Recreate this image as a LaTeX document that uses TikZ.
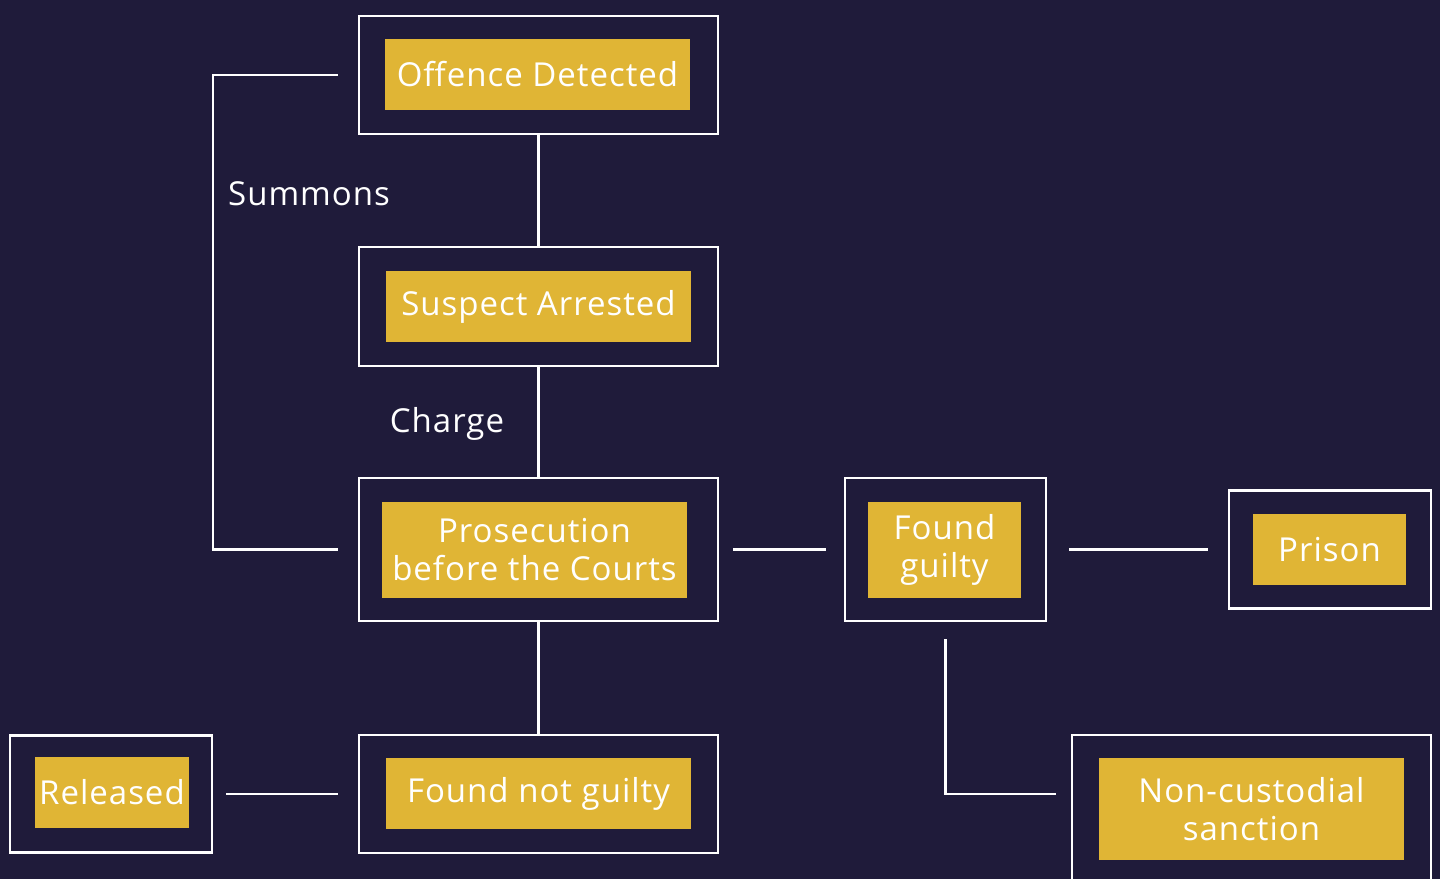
\documentclass[tikz,border=0pt]{standalone}
\usepackage{fontspec}
\setmainfont{Open Sans}[LetterSpace=3]
\definecolor{bg}{HTML}{1F1B3A}
\definecolor{gold}{HTML}{E0B535}
\begin{document}
\begin{tikzpicture}[x=1pt,y=-1pt,
  frame/.style={draw=white,line width=2.6pt,fill=none,inner sep=0pt},
  goldbox/.style={fill=gold,text=white,inner sep=0pt,align=center,font=\fontsize{33}{38}\selectfont},
  conn/.style={draw=white,line width=2.6pt},
  lbl/.style={text=white,font=\fontsize{33}{38}\selectfont,inner sep=0pt}]
\fill[bg] (0,0) rectangle (1440,879);
\useasboundingbox (0,0) rectangle (1440,879);
% frames
\node[frame,minimum width=359pt,minimum height=118pt] (offF) at (538.5,75) {};
\node[frame,minimum width=359pt,minimum height=119pt] (susF) at (538.5,306.5) {};
\node[frame,minimum width=359pt,minimum height=143pt] (proF) at (538.5,549.5) {};
\node[frame,minimum width=201pt,minimum height=143pt] (fgF) at (945.5,549.5) {};
\node[frame,minimum width=202pt,minimum height=118pt] (priF) at (1330,549.5) {};
\node[frame,minimum width=359pt,minimum height=118pt] (fngF) at (538.5,794) {};
\node[frame,minimum width=202pt,minimum height=117pt] (relF) at (111,794) {};
\node[frame,minimum width=359pt,minimum height=160pt] (ncF) at (1251.5,815) {};
% gold boxes
\node[goldbox,minimum width=305pt,minimum height=71pt] (off) at (537.5,74.5) {\raisebox{-3pt}{Offence Detected}};
\node[goldbox,minimum width=305pt,minimum height=71pt] (sus) at (538.5,306.5) {\raisebox{-3pt}{Suspect Arrested}};
\node[goldbox,minimum width=305pt,minimum height=96pt] (pro) at (534.5,550) {Prosecution\\before the Courts};
\node[goldbox,minimum width=153pt,minimum height=96pt] (fg) at (944.5,550) {Found\\guilty};
\node[goldbox,minimum width=153pt,minimum height=71pt] (pri) at (1329.5,549.5) {Prison};
\node[goldbox,minimum width=305pt,minimum height=71pt] (fng) at (538.5,793.5) {\raisebox{-4pt}{Found not guilty}};
\node[goldbox,minimum width=154pt,minimum height=71pt] (rel) at (112,792.5) {\raisebox{-2pt}{Released}};
\node[goldbox,minimum width=305pt,minimum height=102pt] (nc) at (1251.5,809) {Non-custodial\\sanction};
% labels
\node[lbl] (summons) at (309,194) {Summons};
\node[lbl] (charge) at (447,424) {Charge};
% coordinates for free ends
\coordinate (sumA) at ([xshift=-20pt]offF.west);
\coordinate (sumB) at ([xshift=-20pt]proF.west);
\coordinate (pfA) at ([xshift=14pt]proF.east);
\coordinate (pfB) at ([xshift=-18pt]fgF.west);
\coordinate (fpA) at ([xshift=22pt]fgF.east);
\coordinate (fpB) at ([xshift=-20pt]priF.west);
\coordinate (fnA) at ([yshift=-17pt]fgF.south);
\coordinate (fnB) at (1056,794);
\coordinate (rlA) at ([xshift=13pt]relF.east);
\coordinate (rlB) at ([xshift=-20pt]fngF.west);
% connectors
\draw[conn] (offF.south) -- (susF.north);
\draw[conn] (susF.south) -- (proF.north);
\draw[conn] (proF.south) -- (fngF.north);
\draw[conn] (sumA) -- (213,0 |- sumA) -- (213,0 |- sumB) -- (sumB);
\draw[conn] (pfA) -- (pfB);
\draw[conn] (fpA) -- (fpB);
\draw[conn] (fnA) -- (fnA |- fnB) -- (fnB);
\draw[conn] (rlA) -- (rlB);
\end{tikzpicture}
\end{document}
